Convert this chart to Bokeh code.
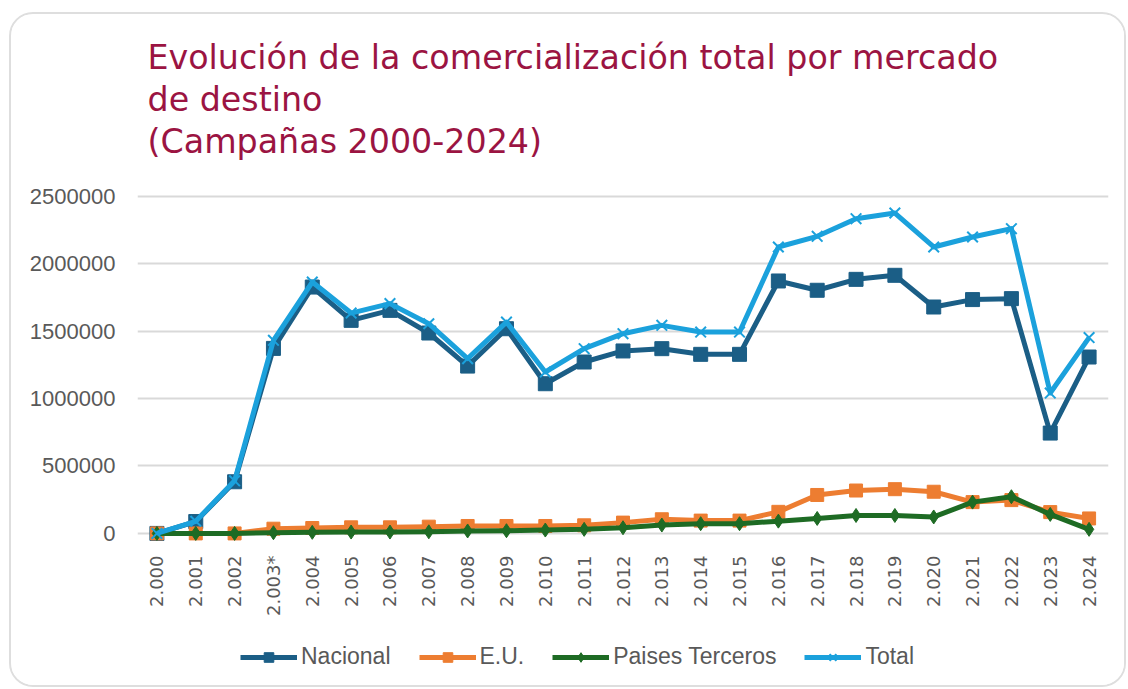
import math
from bokeh.plotting import figure
from bokeh.layouts import column
from bokeh.models import (FactorRange, Range1d, FixedTicker, BasicTickFormatter,
                          Legend, LegendItem, Title, ColumnDataSource)
from bokeh.embed import file_html
from bokeh.resources import INLINE

campaigns = ["2.000", "2.001", "2.002", "2.003*", "2.004", "2.005", "2.006", "2.007",
             "2.008", "2.009", "2.010", "2.011", "2.012", "2.013", "2.014", "2.015",
             "2.016", "2.017", "2.018", "2.019", "2.020", "2.021", "2.022", "2.023", "2.024"]
nacional = [0, 88000, 383000, 1372000, 1827000, 1580000, 1654000, 1486000, 1241000,
            1518000, 1110000, 1271000, 1353000, 1370000, 1328000, 1328000, 1872000,
            1803000, 1884000, 1914000, 1679000, 1734000, 1741000, 744000, 1308000]
eu = [0, 0, 0, 35000, 40000, 45000, 45000, 50000, 55000, 55000, 55000, 60000, 80000,
      105000, 95000, 95000, 160000, 285000, 318000, 328000, 309000, 232000, 247000,
      158000, 111000]
terceros = [0, 0, 0, 5000, 8000, 10000, 10000, 12000, 18000, 20000, 25000, 30000, 42000,
            62000, 72000, 72000, 91000, 111000, 133000, 133000, 122000, 232000, 272000,
            141000, 30000]
total = [0, 90000, 390000, 1432000, 1864000, 1634000, 1704000, 1555000, 1296000,
         1567000, 1197000, 1370000, 1481000, 1543000, 1493000, 1493000, 2124000,
         2203000, 2334000, 2376000, 2124000, 2198000, 2260000, 1041000, 1452000]
y_ticks = [0, 500000, 1000000, 1500000, 2000000, 2500000]
title_lines = ["Evolución de la comercialización total por mercado",
               "de destino",
               "(Campañas 2000-2024)"]
series_names = ["Nacional", "E.U.", "Paises Terceros", "Total"]

src = ColumnDataSource(dict(x=campaigns, nacional=nacional, eu=eu,
                            terceros=terceros, total=total))

W = 1113
x_range = FactorRange(*campaigns, range_padding=0)
p = figure(width=W, height=607, x_range=x_range,
           y_range=Range1d(-60000, 2758000), output_backend="svg",
           toolbar_location=None, min_border_left=126, min_border_right=16,
           min_border_top=147, min_border_bottom=80, title=title_lines[0])
p.outline_line_color = None
p.background_fill_color = "white"
p.border_fill_color = "white"

TITLE_COLOR = "#9b1442"
TFONT = "DejaVu Sans"
TSIZE = "33.3px"
p.title.align = "left"
p.title.offset = 10
p.title.text_font = TFONT
p.title.text_font_size = TSIZE
p.title.text_font_style = "normal"
p.title.text_color = TITLE_COLOR
p.title.standoff = 1
# titles added first sit closest to the plot frame
for line in (title_lines[2], title_lines[1]):
    p.add_layout(Title(text=line, align="left", offset=10, text_font=TFONT,
                       text_font_size=TSIZE, text_font_style="normal",
                       text_color=TITLE_COLOR, standoff=1), "above")

p.xgrid.grid_line_color = None
p.ygrid.grid_line_color = "#d9d9d9"
p.ygrid.grid_line_width = 2
p.ygrid.ticker = FixedTicker(ticks=y_ticks)
p.yaxis.ticker = FixedTicker(ticks=y_ticks)
p.yaxis.formatter = BasicTickFormatter(use_scientific=False)
for ax in (p.xaxis, p.yaxis):
    ax.axis_line_color = None
    ax.major_tick_line_color = None
    ax.minor_tick_line_color = None
    ax.major_label_text_color = "#595959"
p.yaxis.major_label_text_font = "Liberation Sans"
p.yaxis.major_label_text_font_size = "22px"
p.yaxis.major_label_standoff = 16
p.xaxis.major_label_text_font = "DejaVu Sans"
p.xaxis.major_label_text_font_size = "18px"
p.xaxis.major_label_orientation = math.pi / 2
p.xaxis.major_label_standoff = 8

styles = [
    ("nacional", "#1b5e86", "square", 14, 0),
    ("eu", "#ed7d31", "square", 13, 0),
    ("terceros", "#1e6b24", "diamond", 14, 0),
    ("total", "#1ba1dc", "x", 15, 2),
]

def draw(fig, col, color, marker, size, mlw):
    ln = fig.line("x", col, source=src, line_color=color, line_width=5,
                  line_join="round")
    if marker == "x":
        mk = fig.scatter("x", col, source=src, marker=marker, size=size,
                         line_color=color, line_width=mlw)
    else:
        mk = fig.scatter("x", col, source=src, marker=marker, size=size,
                         fill_color=color, line_color=color)
    return ln, mk

for col, color, marker, size, mlw in styles:
    draw(p, col, color, marker, size, mlw)

# legend strip below the chart: same series and styles, y range set above the data
# so only the legend itself is visible in this strip
leg_fig = figure(width=W, height=64, x_range=x_range, y_range=Range1d(5e6, 6e6),
                 output_backend="svg", toolbar_location=None, min_border=0,
                 x_axis_location=None, y_axis_location=None)
leg_fig.outline_line_color = None
leg_fig.grid.grid_line_color = None
leg_fig.background_fill_color = "white"
leg_fig.border_fill_color = "white"
items = []
for name, (col, color, marker, size, mlw) in zip(series_names, styles):
    ln, mk = draw(leg_fig, col, color, marker, size, mlw)
    items.append(LegendItem(label=name, renderers=[ln, mk]))

legend = Legend(items=items, orientation="horizontal", location=(103, 15),
                glyph_width=57, glyph_height=24, label_standoff=4, spacing=28,
                padding=0, margin=0, border_line_alpha=0, background_fill_alpha=0,
                label_text_font="Liberation Sans", label_text_font_size="23px",
                label_text_color="#595959")
leg_fig.add_layout(legend, "center")

layout = column(p, leg_fig, spacing=0)
layout.styles = {"border": "2px solid #dedede", "border-radius": "24px",
                 "overflow": "hidden", "margin-left": "9px", "margin-top": "12px"}

open("out.html", "w").write(file_html(layout, INLINE))
